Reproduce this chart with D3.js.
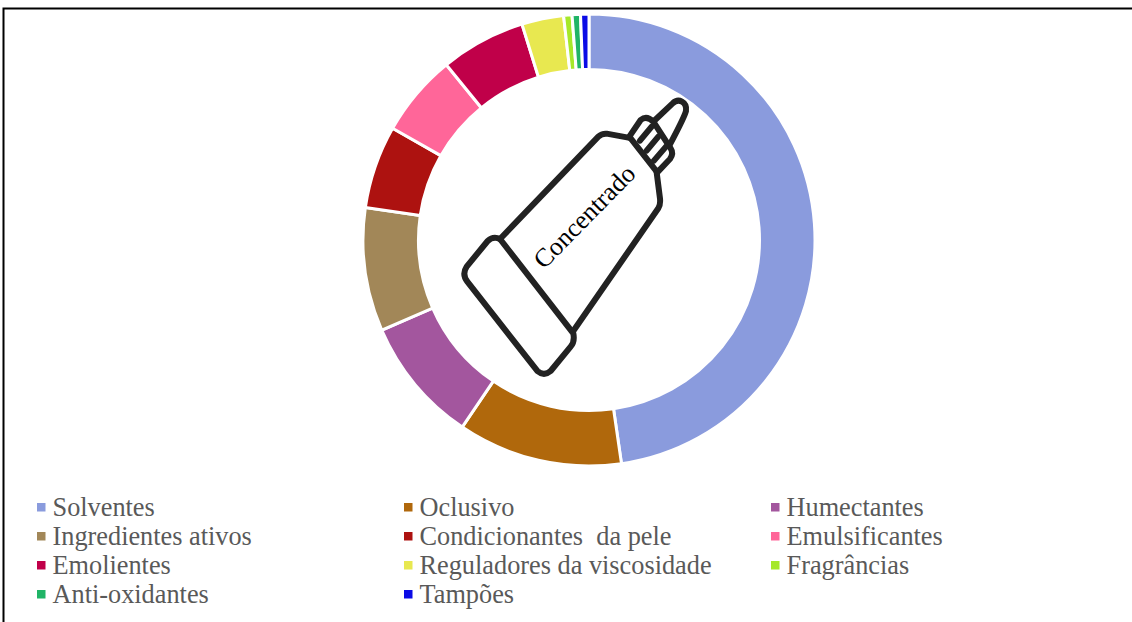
<!DOCTYPE html>
<html><head><meta charset="utf-8">
<script src="https://cdn.jsdelivr.net/npm/d3@7"></script>
<style>html,body{margin:0;padding:0;background:#fff;overflow:hidden}</style></head>
<body><svg id="c" width="1132" height="622"></svg>
<script>
const categories = ["Solventes","Oclusivo","Humectantes","Ingredientes ativos","Condicionantes  da pele","Emulsificantes","Emolientes","Reguladores da viscosidade","Fragrâncias","Anti-oxidantes","Tampões"];
const shares = [47.8,11.8,9.0,8.85,5.95,5.9,6.1,3.0,0.6,0.6,0.6];
const colors = ["#8A9BDD","#B0680C","#A3569E","#A28758","#AD1210","#FF6699","#C00049","#E8E850","#A6E82A","#20B466","#0B0BE6"];
const centerLabel = "Concentrado";
const svg = d3.select("#c");
svg.append("path").attr("d","M3.5 622V8.5H1132").attr("fill","none").attr("stroke","#000").attr("stroke-width",2);
const pie = d3.pie().sort(null)(shares);
const arc = d3.arc().innerRadius(170.5).outerRadius(226);
const g = svg.append("g").attr("transform","translate(589,240)");
g.selectAll("path").data(pie).join("path").attr("d",arc)
 .attr("fill",(d,i)=>colors[i]).attr("stroke","#fff").attr("stroke-width",3);
// bottle icon (decorative), drawn in its own local frame
const b = svg.append("g").attr("transform","translate(450,85) scale(0.3333)")
 .attr("fill","none").attr("stroke","#222").attr("stroke-width",18).attr("stroke-linejoin","round").attr("stroke-linecap","round");
[
 "M150 462 Q130 452 113 468 L50 545 Q35 568 52 590 L262 858 Q282 875 302 858 L362 785 Q375 770 370 745 Z",
 "M150 462 L445 155 Q455 145 470 146 L535 158",
 "M372 735 L625 370 Q632 360 630 340 L620 262",
 "M538 155 L572 105 Q590 90 610 110 L662 190 Q672 205 660 222 L622 262 Z",
 "M612 108 L668 55 C685 38 712 50 708 78 Q704 95 660 178",
 "M570 167 L605 125 M590 197 L625 155 M612 227 L648 185"
].forEach(d=>b.append("path").attr("d",d));
svg.append("text").text(centerLabel).attr("transform","translate(544,270) rotate(-45.5)")
 .attr("font-family","Liberation Serif").attr("font-size",26).attr("fill","#000");
// legend
const col = d3.scaleOrdinal().domain([0,1,2]).range([37,404,771]);
const row = d3.scaleLinear().domain([0,3]).range([516,603]);
const leg = svg.selectAll("g.l").data(categories).join("g").attr("class","l")
 .attr("transform",(d,i)=>`translate(${col(i%3)},${row(Math.floor(i/3))})`);
leg.append("rect").attr("x",0).attr("y",-13).attr("width",8.5).attr("height",8.5).attr("fill",(d,i)=>colors[i]);
leg.append("text").attr("x",15.5).text(d=>d).style("white-space","pre")
 .attr("font-family","Liberation Serif").attr("font-size",26.3).attr("fill","#595959");
</script></body></html>
